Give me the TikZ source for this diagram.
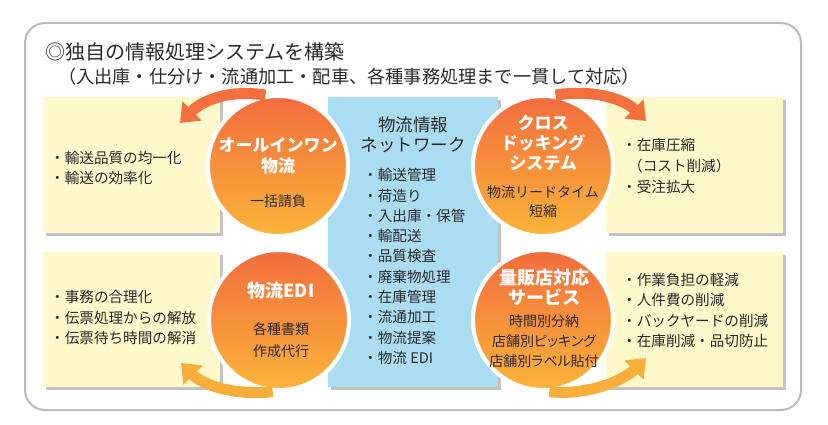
\documentclass[tikz,border=0pt]{standalone}
\usepackage{fontspec}
\setmainfont{Noto Sans CJK JP}
\usetikzlibrary{arrows.meta, shadows}
\definecolor{framegray}{HTML}{BBBBBB}
\definecolor{boxyellow}{HTML}{FFF8CB}
\definecolor{boxblue}{HTML}{AADCF2}
\definecolor{circtop}{HTML}{F26C3D}
\definecolor{circbot}{HTML}{FBB53A}
\definecolor{arrowtop}{HTML}{F3703E}
\definecolor{arrowbot}{HTML}{F8AE3B}
\definecolor{textdark}{HTML}{2A2A2A}

\begin{document}
\begin{tikzpicture}[
    x=1pt, y=-1pt,
    every node/.style={font=\fontsize{14}{20}\selectfont, text=textdark, inner sep=0pt},
    panel/.style={drop shadow={shadow xshift=3pt, shadow yshift=-3pt, fill=black!40, opacity=0.6}},
    disc/.style={circle, minimum size=140pt, draw=white, line width=4pt, top color=circtop, bottom color=circbot},
    ctitle/.style={align=center, text=white, font=\fontsize{17}{20.5}\selectfont\bfseries},
    cbody/.style={align=center, font=\fontsize{14}{20}\selectfont},
    plist/.style={anchor=west, align=left, font=\fontsize{14.6}{20.3}\selectfont},
    flowtop/.style={arrowtop, line width=11pt, -{Triangle[width=26pt, length=17pt]}},
    flowbot/.style={arrowbot, line width=11pt, -{Triangle[width=26pt, length=17pt]}}
]
\useasboundingbox (0,0) rectangle (828,425);

% outer frame and headline
\draw[framegray, line width=2pt, rounded corners=20pt] (25,23) rectangle (801,410);
\node[anchor=west, font=\fontsize{20}{22}\selectfont] (headline) at (45,52) {◎独自の情報処理システムを構築};
\node[anchor=west, font=\fontsize{18.2}{20}\selectfont] (subline) at (58,77) {（入出庫・仕分け・流通加工・配車、各種事務処理まで一貫して対応）};

% panels
\fill[boxyellow, panel] (43,97) rectangle (220,233);
\fill[boxyellow, panel] (43,252) rectangle (220,387);
\fill[boxyellow, panel] (606,97) rectangle (783,233);
\fill[boxyellow, panel] (606,252) rectangle (783,387);
\fill[boxblue, panel] (328,97) rectangle (498,387);

% discs
\node[disc] (allinone) at (278,166) {};
\node[disc] (crossdock) at (543,166) {};
\node[disc] (edi) at (279,320) {};
\node[disc] (retail) at (543,320) {};

% arrow tips
\coordinate (tlTip) at (180,123);
\coordinate (trTip) at (646,121);
\coordinate (blTip) at (181,363);
\coordinate (brTip) at (646,358);

\draw[flowtop] (allinone.100) .. controls +(-38,-6) and +(22,-22) .. (tlTip);
\draw[flowtop] (crossdock.80) .. controls +(38,-6) and +(-22,-22) .. (trTip);
\draw[flowbot] (edi.265) .. controls +(-40,4) and +(22,22) .. (blTip);
\draw[flowbot] (retail.275) .. controls +(40,4) and +(-22,22) .. (brTip);

% disc texts
\node[ctitle] (allinoneT) at (278,156) {オールインワン\\物流};
\node[cbody] (allinoneB) at (278,201) {一括請負};
\node[ctitle, font=\fontsize{17}{20}\selectfont\bfseries] (crossdockT) at (543,143) {クロス\\ドッキング\\システム};
\node[cbody, font=\fontsize{14}{19}\selectfont] (crossdockB) at (543,201.5) {物流リードタイム\\短縮};
\node[ctitle, font=\fontsize{18}{20}\selectfont\bfseries] (ediT) at (281,291) {物流EDI};
\node[cbody, font=\fontsize{14}{22}\selectfont] (ediB) at (281,340.5) {各種書類\\作成代行};
\node[ctitle, font=\fontsize{18}{20}\selectfont\bfseries] (retailT) at (544,287.5) {量販店対応\\サービス};
\node[cbody, font=\fontsize{14}{20}\selectfont\addfontfeatures{RawFeature=+palt}] (retailB) at (544,341) {時間別分納\\店舗別ピッキング\\店舗別ラベル貼付};

% network panel
\node[align=center, font=\fontsize{17.5}{20}\selectfont] (netT) at (413,135) {物流情報\\ネットワーク};
\node[plist] (netL) at (363,266.5) {・輸送管理\\・荷造り\\・入出庫・保管\\・輸配送\\・品質検査\\・廃棄物処理\\・在庫管理\\・流通加工\\・物流提案\\・物流 EDI};

% panel lists
\node[plist] (tlL) at (50,168) {・輸送品質の均一化\\・輸送の効率化};
\node[plist] (blL) at (50,317.5) {・事務の合理化\\・伝票処理からの解放\\・伝票待ち時間の解消};
\node[plist, font=\fontsize{14.6}{21}\selectfont] (trL) at (622,166) {・在庫圧縮\\\hspace*{6pt}（コスト削減）\\・受注拡大};
\node[plist] (brL) at (622,310.5) {・作業負担の軽減\\・人件費の削減\\・バックヤードの削減\\・在庫削減・品切防止};

\end{tikzpicture}
\end{document}
